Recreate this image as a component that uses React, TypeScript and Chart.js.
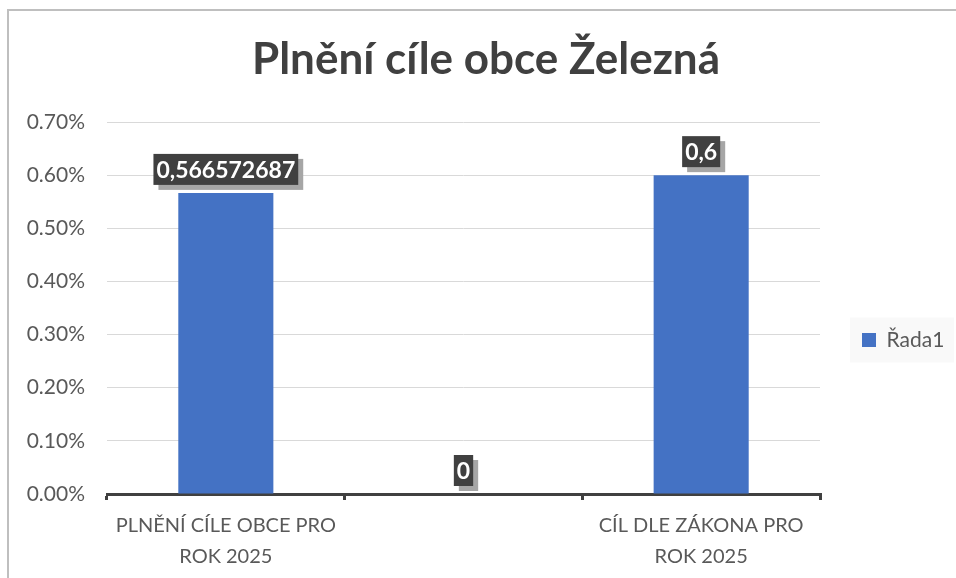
import React, { useEffect, useRef } from 'react';
import { Chart, registerables } from 'chart.js';

Chart.register(...registerables);

const titleText = 'Plnění cíle obce Železná';
const categories: (string | string[])[] = [
  ['PLNĚNÍ CÍLE OBCE PRO', 'ROK 2025'],
  '',
  ['CÍL DLE ZÁKONA PRO', 'ROK 2025'],
];
const seriesName = 'Řada1';
const values = [0.566572687, 0, 0.6];
const yMin = 0;
const yMax = 0.7;
const yStep = 0.1;

const FONT = 'Lato, "Noto Sans", sans-serif';

const W = 954;
const H = 658;

const dataLabelPlugin = {
  id: 'dataLabelBoxes',
  afterDatasetsDraw(chart: any) {
    const ctx = chart.ctx;
    const meta = chart.getDatasetMeta(0);
    const data = chart.data.datasets[0].data as number[];
    ctx.save();
    ctx.font = `bold 23px ${FONT}`;
    ctx.textAlign = 'center';
    ctx.textBaseline = 'middle';
    meta.data.forEach((bar: any, i: number) => {
      const text = String(data[i]).replace('.', ',');
      const tw = ctx.measureText(text).width;
      const bw = tw + 6;
      const bh = 31;
      const x = bar.x - bw / 2;
      const y = bar.y - 8 - bh;
      ctx.fillStyle = '#a6a6a6';
      ctx.fillRect(x + 5, y + 5, bw, bh);
      ctx.fillStyle = '#404040';
      ctx.fillRect(x, y, bw, bh);
      ctx.fillStyle = '#ffffff';
      ctx.fillText(text, bar.x, y + bh / 2 + 1);
    });
    ctx.restore();
  },
};

const legendFixPlugin = {
  id: 'legendFix',
  beforeLayout(chart: any) {
    const lg = chart.legend;
    if (lg && !lg._fixed) {
      const orig = lg.fit.bind(lg);
      lg.fit = function () {
        orig();
        this.width = 143;
      };
      lg._fixed = true;
    }
  },
  beforeDraw(chart: any) {
    const lg = chart.legend;
    if (!lg || !lg.legendHitBoxes || !lg.legendHitBoxes.length) return;
    const hb = lg.legendHitBoxes[0];
    const ctx = chart.ctx;
    ctx.save();
    ctx.fillStyle = '#f9f9f9';
    ctx.fillRect(hb.left - 12, hb.top - 12, 104, 45);
    ctx.restore();
  },
};

export default function App() {
  const ref = useRef<HTMLCanvasElement | null>(null);

  useEffect(() => {
    if (!ref.current) return;
    const chart = new Chart(ref.current, {
      type: 'bar',
      data: {
        labels: categories,
        datasets: [
          {
            label: seriesName,
            data: values,
            backgroundColor: '#4472c4',
            borderWidth: 0,
            categoryPercentage: 1,
            barPercentage: 0.4,
          },
        ],
      },
      options: {
        responsive: false,
        animation: false,
        events: [],
        layout: { padding: 0 },
        plugins: {
          title: {
            display: true,
            text: titleText,
            color: '#404040',
            font: { family: FONT, size: 44, weight: 'bold', lineHeight: 1.2 },
            padding: { top: 22.6, bottom: 35.6 },
          },
          legend: {
            display: true,
            position: 'right',
            labels: {
              color: '#595959',
              font: { family: FONT, size: 21 },
              boxWidth: 14,
              boxHeight: 14,
              padding: 42,
            },
          },
          tooltip: { enabled: false },
        },
        scales: {
          x: {
            offset: true,
            afterFit(scale: any) {
              scale.height = H - 483;
            },
            border: { display: true, color: '#404040', width: 3 },
            grid: {
              display: true,
              drawOnChartArea: false,
              drawTicks: true,
              tickLength: 6,
              color: '#404040',
              lineWidth: 3,
              offset: true,
            },
            ticks: {
              color: '#595959',
              font: { family: FONT, size: 20, lineHeight: '31px' },
              padding: 10,
              maxRotation: 0,
              autoSkip: false,
            },
          },
          y: {
            min: yMin,
            max: yMax,
            afterFit(scale: any) {
              scale.width = 98;
            },
            border: { display: false },
            grid: { color: '#d9d9d9', lineWidth: 1, drawTicks: false },
            ticks: {
              stepSize: yStep,
              color: '#595959',
              font: { family: FONT, size: 21 },
              padding: 22,
              callback: (v: any) => Number(v).toFixed(2) + '%',
            },
          },
        },
      },
      plugins: [dataLabelPlugin, legendFixPlugin],
    });
    return () => chart.destroy();
  }, []);

  return (
    <div
      style={{
        position: 'fixed',
        left: 0,
        top: 0,
        width: 956,
        height: 578,
        overflow: 'hidden',
        background: '#ffffff',
      }}
    >
      <div
        style={{
          position: 'absolute',
          left: 7,
          top: 9,
          width: W,
          height: H,
          border: '2px solid #bfbfbf',
        }}
      >
        <canvas ref={ref} width={W} height={H} style={{ display: 'block' }} />
      </div>
    </div>
  );
}
